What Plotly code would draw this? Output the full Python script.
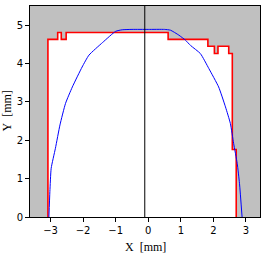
import plotly.graph_objects as go

# Red measured profile (step outline)
red_x = [-3.08, -3.08, -2.78, -2.78, -2.67, -2.67, -2.52, -2.52, 0.61, 0.61, 1.83, 1.83,
         2.03, 2.03, 2.14, 2.14, 2.47, 2.47, 2.58, 2.58, 2.70, 2.70]
red_y = [0.0, 4.63, 4.63, 4.81, 4.81, 4.63, 4.63, 4.81, 4.81, 4.63, 4.63, 4.45,
         4.45, 4.26, 4.26, 4.45, 4.45, 4.26, 4.26, 1.76, 1.76, 0.0]

# Blue fitted curve
blue_x = [-3.05, -3.02, -2.98, -2.85, -2.71, -2.54, -2.33, -2.03, -1.82, -1.40, -1.00,
          -0.80, -0.50, 0.00, 0.50, 0.68, 0.94, 1.14, 1.30, 1.60, 1.86, 2.16, 2.37,
          2.52, 2.62, 2.73, 2.80, 2.88]
blue_y = [0.00, 0.66, 1.27, 1.79, 2.40, 2.96, 3.39, 3.91, 4.22, 4.55, 4.84,
          4.88, 4.89, 4.89, 4.89, 4.87, 4.74, 4.61, 4.47, 4.26, 3.87, 3.39, 2.87,
          2.44, 1.92, 1.40, 0.88, 0.00]

center_x = -0.107
x_range = [-3.63, 3.43]
y_range = [0, 5.5]
x_ticks = [-3, -2, -1, 0, 1, 2, 3]
x_ticktext = ["\u22123", "\u22122", "\u22121", "0", "1", "2", "3"]
y_ticks = [0, 1, 2, 3, 4, 5]

fig = go.Figure()
fig.add_trace(go.Scatter(x=red_x, y=red_y, mode="lines", fill="toself",
                         fillcolor="white", line=dict(color="red", width=1.6),
                         hoverinfo="skip"))
fig.add_trace(go.Scatter(x=blue_x, y=blue_y, mode="lines",
                         line=dict(color="blue", width=1, shape="spline", smoothing=0.5),
                         hoverinfo="skip"))
fig.add_trace(go.Scatter(x=[center_x, center_x], y=y_range, mode="lines",
                         line=dict(color="black", width=1), hoverinfo="skip"))

axis_common = dict(showgrid=False, zeroline=False, showline=True, linecolor="black",
                   linewidth=1, mirror=True, ticks="outside", ticklen=4, automargin=False,
                   tickcolor="black", tickfont=dict(family="DejaVu Sans", size=10, color="black"))

title_font = dict(family="Liberation Serif", size=12, color="black")

fig.update_layout(
    width=265, height=255,
    margin=dict(l=30, r=5, t=6, b=38),
    paper_bgcolor="white", plot_bgcolor="#c0c0c0",
    showlegend=False,
    xaxis=dict(range=x_range, tickvals=x_ticks, ticktext=x_ticktext, **axis_common),
    yaxis=dict(range=y_range, tickvals=y_ticks, **axis_common),
    annotations=[
        dict(text="X\u00a0\u00a0[mm]", xref="paper", yref="paper", x=0.5, y=0,
             xanchor="center", yanchor="middle", yshift=-30, showarrow=False, font=title_font),
        dict(text="Y\u00a0\u00a0[mm]", xref="paper", yref="paper", x=0, y=0.5,
             xanchor="center", yanchor="middle", xshift=-24, textangle=-90,
             showarrow=False, font=title_font),
    ],
)

fig.write_html("out.html", config={"displayModeBar": False},
               post_script="document.body.style.margin='0';document.body.style.overflow='hidden';")
